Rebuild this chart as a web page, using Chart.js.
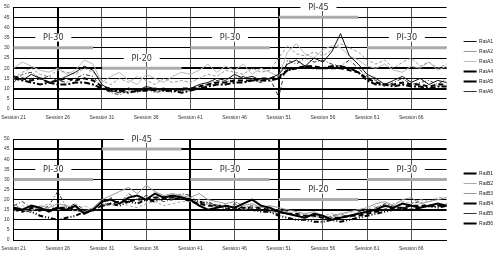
<!DOCTYPE html>
<html>
<head>
<meta charset="utf-8">
<script src="https://cdn.jsdelivr.net/npm/chart.js@4.4.0/dist/chart.umd.min.js"></script>
<style>
  body { margin: 0; background: #fff; }
  .box { position: relative; width: 500px; }
</style>
</head>
<body>
<div class="box" style="height:130px"><canvas id="topChart"></canvas></div>
<div class="box" style="height:131px"><canvas id="bottomChart"></canvas></div>
<script>
// Sesiones 21..70 (eje x)
const sessions = [];
for (let s = 21; s <= 70; s++) sessions.push('Session ' + s);

// Fases (bloques de 10 sesiones)
const phaseTop = [30, 20, 30, 45, 30];
const phaseTopNames = ['PI-30', 'PI-20', 'PI-30', 'PI-45', 'PI-30'];
const phaseBottom = [30, 45, 30, 20, 30];
const phaseBottomNames = ['PI-30', 'PI-45', 'PI-30', 'PI-20', 'PI-30'];

// Grupo A (gráfico superior)
const ratA1 = [16,14,17,15,13,14,16,18,21,19, 12,9,8,10,9,11,10,9,10,9, 10,12,13,15,14,17,15,16,14,15, 17,22,24,21,25,23,28,37,26,22, 17,15,12,14,16,13,15,12,14,13];
const ratA2 = [15,18,20,17,16,19,18,17,20,18, 14,12,15,13,16,14,12,15,13,14, 13,15,17,16,19,18,17,20,18,19, 25,31,27,26,28,26,29,32,30,28, 24,22,24,20,23,25,21,23,20,22];
const ratA3 = [20,23,21,19,18,20,17,19,24,22, 13,16,18,14,12,17,15,13,16,18, 17,19,22,18,21,19,22,17,20,18, 16,28,32,27,25,29,31,30,26,24, 21,20,22,19,18,21,20,23,19,21];
const ratA4 = [16,15,14,15,13,14,15,14,15,14, 11,10,9,10,9,10,9,10,9,10, 10,11,12,13,13,14,14,14,15,15, 16,19,20,21,21,20,20,20,19,18, 15,13,12,12,13,12,12,11,12,12];
const ratA5 = [15,14,13,12,13,12,12,13,13,12, 10,9,9,8,9,9,10,9,9,8, 9,10,11,12,12,13,13,14,14,14, 15,19,20,21,20,20,21,21,20,18, 14,12,12,11,12,11,11,10,11,11];
const ratA6 = [13,17,18,15,16,14,13,15,17,16, 10,8,7,9,8,10,8,9,8,10, 9,11,12,14,13,15,16,14,13,15, 6,24,22,25,23,24,22,21,24,20, 16,14,11,13,15,12,13,14,12,15];

// Grupo B (gráfico inferior)
const ratB1 = [16,15,17,16,14,16,15,17,13,15, 19,20,18,21,22,20,23,21,22,21, 20,17,15,16,17,16,18,20,17,16, 14,13,12,11,13,12,10,11,12,13, 14,15,17,16,18,17,16,17,18,17];
const ratB2 = [14,17,15,16,18,15,16,14,17,15, 18,17,19,17,16,18,19,17,18,19, 19,20,18,17,16,17,15,16,17,15, 15,14,12,13,11,12,13,12,14,13, 15,17,16,18,19,18,20,19,21,21];
const ratB3 = [18,15,14,17,16,18,17,16,14,16, 20,22,24,26,23,27,24,22,23,22, 21,23,20,19,18,19,17,18,16,17, 16,15,14,13,14,12,11,13,14,15, 16,18,19,17,20,21,18,19,20,21];
const ratB4 = [15,14,16,15,15,16,16,15,14,15, 17,18,19,19,20,20,21,21,21,21, 19,18,17,17,17,16,16,16,16,15, 14,13,13,12,12,11,11,11,12,12, 13,14,15,16,16,17,17,17,17,17];
const ratB5 = [17,19,16,14,17,24,16,18,15,14, 16,21,18,23,20,22,21,19,20,23, 22,18,19,17,15,18,16,17,15,14, 13,14,12,11,13,10,12,13,11,14, 14,16,18,17,15,18,19,16,17,18];
const ratB6 = [16,15,14,12,11,10,11,12,14,15, 17,18,17,19,18,20,19,21,20,21, 20,19,18,17,16,15,16,15,14,14, 12,11,10,10,9,9,10,9,10,11, 12,13,14,15,16,15,16,17,16,17];

// Estilos de las líneas (como en la leyenda original)
const stylesA = [
  { color: '#111', width: 1, dash: [] },
  { color: '#999', width: 1, dash: [3, 2] },
  { color: '#bbb', width: 1, dash: [] },
  { color: '#000', width: 2, dash: [5, 3] },
  { color: '#000', width: 2, dash: [6, 2, 2, 2] },
  { color: '#333', width: 1, dash: [4, 2, 1, 2] }
];
const stylesB = [
  { color: '#000', width: 2, dash: [] },
  { color: '#aaa', width: 1, dash: [3, 2] },
  { color: '#999', width: 1, dash: [] },
  { color: '#000', width: 2, dash: [5, 3] },
  { color: '#333', width: 1, dash: [4, 2, 1, 2] },
  { color: '#000', width: 2, dash: [5, 2, 1, 2, 1, 2] }
];

// Plugin para las etiquetas PI-xx con fondo blanco
const phaseLabels = {
  id: 'phaseLabels',
  beforeDatasetsDraw(chart, args, opts) {
    const { ctx, scales: { x, y } } = chart;
    ctx.save();
    ctx.font = '9px "Liberation Sans Narrow", "DejaVu Sans Condensed", "Liberation Sans"';
    ctx.textAlign = 'center';
    ctx.textBaseline = 'middle';
    opts.levels.forEach((lvl, k) => {
      const px = x.getPixelForValue(k * 10 + 4.5);
      const py = y.getPixelForValue(lvl + 5);
      ctx.fillStyle = '#fff';
      ctx.fillRect(px - 18, py - 4, 36, 8);
      ctx.fillStyle = '#333';
      ctx.fillText(opts.names[k], px, py + 0.5);
    });
    ctx.restore();
  }
};

// Mueve la leyenda un poco a la derecha
const legendShift = {
  id: 'legendShift',
  afterLayout(chart) {
    if (chart.legend) {
      chart.legend.left += 12;
      chart.legend.right += 12;
    }
  }
};

function makeChart(id, names, series, styles, levels, levelNames, thickY, thickX, pad) {
  const datasets = series.map((vals, i) => ({
    label: names[i],
    data: vals,
    borderColor: styles[i].color,
    backgroundColor: styles[i].color,
    borderWidth: styles[i].width,
    borderDash: styles[i].dash,
    pointRadius: 0,
    tension: 0,
    fill: false
  }));
  // barras grises de cada fase (al final para que queden debajo)
  levels.forEach((lvl, k) => {
    datasets.push({
      label: 'fase' + k,
      data: sessions.map((_, i) => Math.floor(i / 10) === k ? lvl : null),
      borderColor: '#ababab',
      borderWidth: 3,
      pointRadius: 0,
      spanGaps: false
    });
  });

  return new Chart(document.getElementById(id), {
    type: 'line',
    data: { labels: sessions, datasets: datasets },
    options: {
      responsive: true,
      maintainAspectRatio: false,
      animation: false,
      layout: { padding: pad },
      scales: {
        x: {
          afterFit: (scale) => { scale.paddingLeft = 0; scale.paddingRight = 0; },
          ticks: {
            autoSkip: false,
            maxRotation: 0,
            font: { size: 5, family: 'Liberation Sans' },
            color: '#333',
            padding: 6,
            callback: function (v, i) { return i % 5 === 0 ? this.getLabelForValue(v) : ''; }
          },
          grid: {
            drawTicks: false,
            color: (c) => (c.index % 5 === 0 && c.index > 0 && c.index < 49) ? (thickX.includes(c.index) ? '#000' : '#555') : 'rgba(0,0,0,0)',
            lineWidth: (c) => thickX.includes(c.index) ? 2 : 1
          },
          border: { color: '#000', width: 1 }
        },
        y: {
          min: 0,
          max: 50,
          ticks: {
            stepSize: 5,
            font: { size: 5, family: 'Liberation Sans' },
            color: '#333',
            padding: 4
          },
          grid: {
            drawTicks: false,
            color: '#000',
            lineWidth: (c) => thickY.includes(c.tick.value) ? 2 : 1
          },
          border: { color: '#000', width: 1 }
        }
      },
      plugins: {
        legend: {
          position: 'right',
          labels: {
            usePointStyle: true,
            pointStyle: 'line',
            pointStyleWidth: 13,
            font: { size: 5, family: 'Liberation Sans' },
            color: '#222',
            padding: 5,
            filter: (item) => !item.text.startsWith('fase')
          }
        },
        tooltip: { enabled: false },
        phaseLabels: { levels: levels, names: levelNames }
      }
    },
    plugins: [phaseLabels, legendShift]
  });
}

makeChart('topChart', ['RatA1', 'RatA2', 'RatA3', 'RatA4', 'RatA5', 'RatA6'],
  [ratA1, ratA2, ratA3, ratA4, ratA5, ratA6], stylesA,
  phaseTop, phaseTopNames, [10, 20], [5, 30], { left: 0, right: 9, top: 6, bottom: 3 });

makeChart('bottomChart', ['RatB1', 'RatB2', 'RatB3', 'RatB4', 'RatB5', 'RatB6'],
  [ratB1, ratB2, ratB3, ratB4, ratB5, ratB6], stylesB,
  phaseBottom, phaseBottomNames, [15, 45], [5, 10, 20, 30], { left: 0, right: 9, top: 9, bottom: 3 });
</script>
</body>
</html>
